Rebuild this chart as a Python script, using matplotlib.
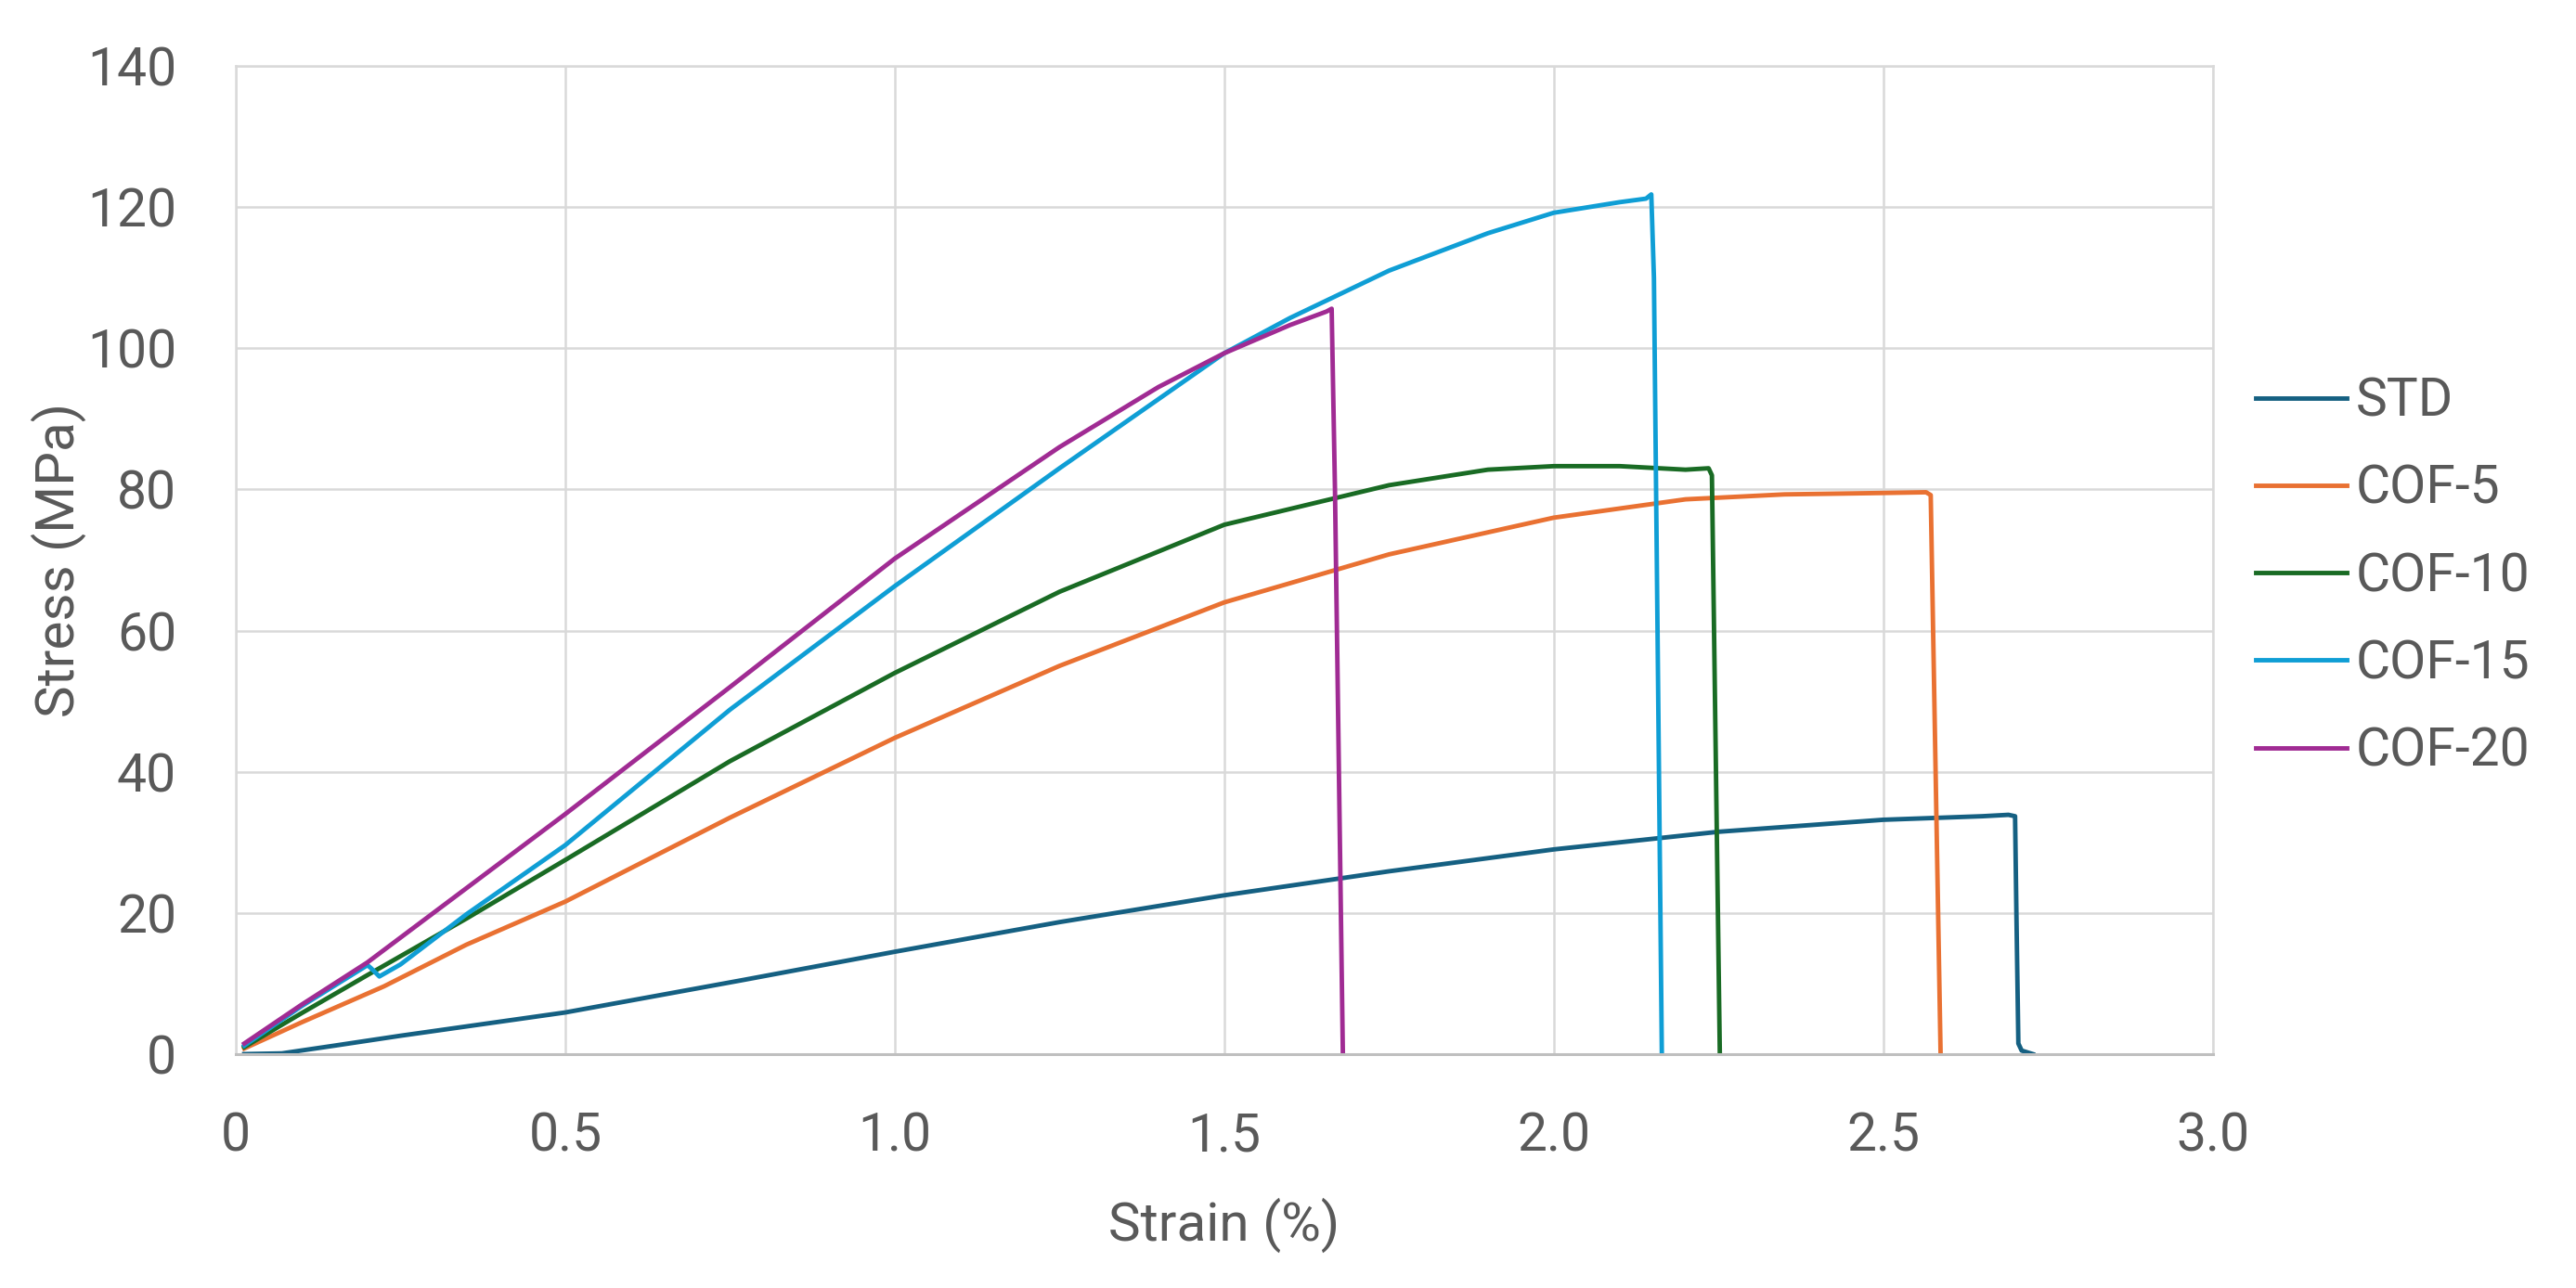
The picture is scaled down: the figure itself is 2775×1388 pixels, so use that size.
import numpy as np
import matplotlib.pyplot as plt

# Stress-strain curves
strain_std = [0.013, 0.07, 0.15, 0.25, 0.5, 0.77, 1.0, 1.25, 1.5, 1.75, 2.0, 2.25, 2.5, 2.65, 2.69, 2.70, 2.702, 2.705, 2.71, 2.727]
stress_std = [0.0, 0.1, 1.2, 2.6, 5.9, 10.5, 14.5, 18.7, 22.5, 25.9, 29.0, 31.5, 33.2, 33.7, 33.9, 33.7, 20.0, 1.5, 0.5, 0.0]

strain_cof5 = [0.013, 0.1, 0.225, 0.35, 0.5, 0.75, 1.0, 1.25, 1.5, 1.75, 2.0, 2.2, 2.35, 2.5, 2.565, 2.572, 2.587]
stress_cof5 = [0.8, 4.5, 9.6, 15.5, 21.6, 33.5, 44.8, 55.0, 64.0, 70.8, 76.0, 78.6, 79.3, 79.5, 79.6, 79.2, 0.0]

strain_cof10 = [0.013, 0.1, 0.2, 0.35, 0.5, 0.75, 1.0, 1.25, 1.5, 1.75, 1.9, 2.0, 2.1, 2.2, 2.235, 2.24, 2.252]
stress_cof10 = [1.0, 5.8, 11.2, 19.2, 27.5, 41.5, 54.0, 65.5, 75.0, 80.6, 82.8, 83.3, 83.3, 82.8, 83.0, 82.0, 0.0]

strain_cof15 = [0.013, 0.1, 0.2, 0.205, 0.218, 0.25, 0.35, 0.5, 0.75, 1.0, 1.25, 1.5, 1.6, 1.75, 1.9, 2.0, 2.1, 2.14, 2.148, 2.152, 2.164]
stress_cof15 = [1.2, 6.8, 12.6, 12.2, 11.0, 12.7, 19.8, 29.6, 48.8, 66.3, 83.0, 99.3, 104.3, 111.0, 116.3, 119.2, 120.7, 121.2, 121.8, 110.0, 0.0]

strain_cof20 = [0.013, 0.1, 0.2, 0.35, 0.5, 0.75, 1.0, 1.25, 1.4, 1.5, 1.6, 1.655, 1.663, 1.668, 1.68]
stress_cof20 = [1.5, 7.0, 13.0, 23.5, 34.0, 52.0, 70.2, 86.0, 94.5, 99.3, 103.3, 105.2, 105.6, 80.0, 0.0]

labels = ['STD', 'COF-5', 'COF-10', 'COF-15', 'COF-20']
colors = ['#156082', '#E97132', '#196B24', '#0F9ED5', '#A02B93']

x_ticks = [0, 0.5, 1.0, 1.5, 2.0, 2.5, 3.0]
x_tick_labels = ['0', '0.5', '1.0', '1.5', '2.0', '2.5', '3.0']
y_ticks = [0, 20, 40, 60, 80, 100, 120, 140]

plt.rcParams['font.family'] = ['Roboto', 'DejaVu Sans']
text_color = '#595959'
grid_color = '#D9D9D9'

fig = plt.figure(figsize=(27.75, 13.88), dpi=100)
ax = fig.add_axes([0.0915, 0.1816, 0.7675, 0.7672])

series = [(strain_std, stress_std), (strain_cof5, stress_cof5), (strain_cof10, stress_cof10),
          (strain_cof15, stress_cof15), (strain_cof20, stress_cof20)]
for (xs, ys), lab, col in zip(series, labels, colors):
    ax.plot(xs, ys, color=col, linewidth=3.5, label=lab, solid_joinstyle='round')

ax.set_xlim(0, 3.0)
ax.set_ylim(0, 140)
ax.set_xticks(x_ticks)
ax.set_xticklabels(x_tick_labels)
ax.set_yticks(y_ticks)
ax.grid(True, color=grid_color, linewidth=1.8)
ax.set_axisbelow(True)
for side in ax.spines:
    ax.spines[side].set_color(grid_color)
    ax.spines[side].set_linewidth(1.8)
ax.spines['bottom'].set_color('#BFBFBF')
ax.spines['bottom'].set_linewidth(2.2)
ax.tick_params(axis='both', length=0, labelsize=41, labelcolor=text_color)
ax.tick_params(axis='x', pad=44)
ax.tick_params(axis='y', pad=46)

ax.set_xlabel('Strain (%)', fontsize=42, color=text_color)
ax.set_ylabel('Stress (MPa)', fontsize=42, color=text_color)
ax.xaxis.set_label_coords(0.5, -0.145)
ax.yaxis.set_label_coords(-0.0755, 0.5)

ax.legend(loc='center left', bbox_to_anchor=(1.0216, 0.483), frameon=False, fontsize=41,
          borderpad=0, borderaxespad=0, handlelength=1.72, handletextpad=0.18,
          labelspacing=0.69, labelcolor=text_color)

plt.savefig('out.png', dpi=100)
